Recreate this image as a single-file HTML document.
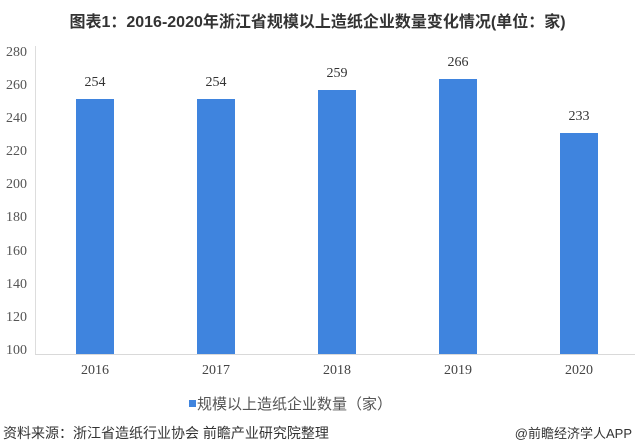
<!DOCTYPE html>
<html><head><meta charset="utf-8"><style>
body{margin:0;width:635px;height:446px;background:#fff;overflow:hidden;position:relative;font-family:"Liberation Serif","Noto Serif CJK SC",serif;}
.t{position:absolute;white-space:nowrap}
.y{position:absolute;left:0;width:27px;text-align:right;font-size:14px;color:#555;}
.bar{position:absolute;width:38px;background:#3f84de;}
.v{position:absolute;width:60px;text-align:center;font-size:14px;color:#333;}
.x{position:absolute;width:60px;text-align:center;font-size:14px;color:#444;top:363px;}
.cjk{font-family:"Liberation Sans","Noto Sans CJK SC",sans-serif;}
</style></head><body>
<div class="t cjk" style="top:8px;left:0;width:635px;text-align:center;font-size:16px;font-weight:bold;color:#333;">图表1：2016-2020年浙江省规模以上造纸企业数量变化情况(单位：家)</div>
<div style="position:absolute;left:35px;top:46px;width:1px;height:308px;background:#ddd"></div>
<div style="position:absolute;left:35px;top:354px;width:600px;height:1px;background:#d9d9d9"></div>
<div class="y" style="top:45px">280</div>
<div class="y" style="top:78px">260</div>
<div class="y" style="top:111px">240</div>
<div class="y" style="top:144px">220</div>
<div class="y" style="top:177px">200</div>
<div class="y" style="top:210px">180</div>
<div class="y" style="top:244px">160</div>
<div class="y" style="top:277px">140</div>
<div class="y" style="top:310px">120</div>
<div class="y" style="top:343px">100</div>

<div class="bar" style="left:76px;top:99px;height:255px"></div>
<div class="bar" style="left:197px;top:99px;height:255px"></div>
<div class="bar" style="left:318px;top:90px;height:264px"></div>
<div class="bar" style="left:439px;top:79px;height:275px"></div>
<div class="bar" style="left:560px;top:133px;height:221px"></div>

<div class="v" style="left:65px;top:75px">254</div>
<div class="v" style="left:186px;top:75px">254</div>
<div class="v" style="left:307px;top:66px">259</div>
<div class="v" style="left:428px;top:55px">266</div>
<div class="v" style="left:549px;top:109px">233</div>

<div class="x" style="left:65px">2016</div>
<div class="x" style="left:186px">2017</div>
<div class="x" style="left:307px">2018</div>
<div class="x" style="left:428px">2019</div>
<div class="x" style="left:549px">2020</div>

<div style="position:absolute;left:189px;top:400px;width:7px;height:7px;background:#3f84de"></div>
<div class="t cjk" style="left:197px;top:393px;font-size:15px;color:#555">规模以上造纸企业数量（家）</div>
<div class="t cjk" style="left:3px;top:423px;font-size:14px;color:#333">资料来源：浙江省造纸行业协会 前瞻产业研究院整理</div>
<div class="t cjk" style="right:3px;top:423px;font-size:13px;color:#333">@前瞻经济学人APP</div>
</body></html>
